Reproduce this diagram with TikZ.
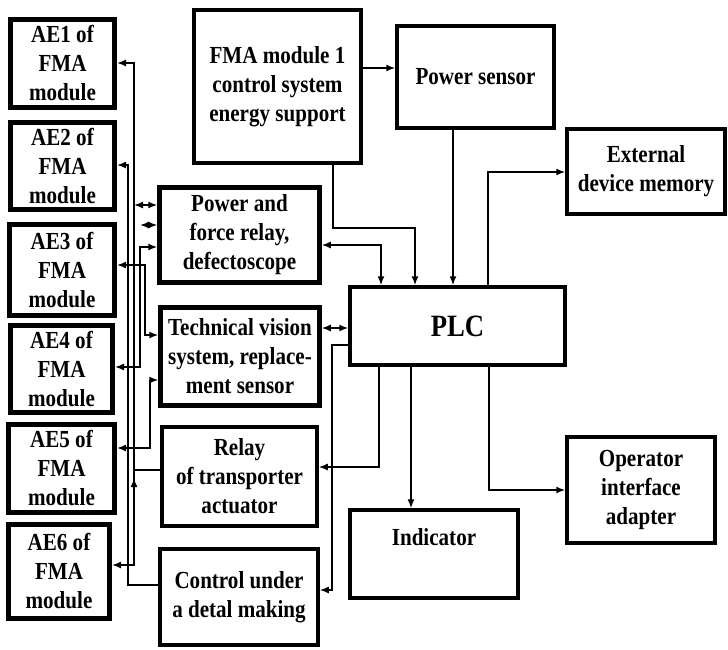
\documentclass[tikz,border=0pt]{standalone}
\usepackage{fontspec}
\setmainfont{Liberation Serif}[FakeStretch=0.86]
\usetikzlibrary{arrows.meta}
\tikzset{
  boxbase/.style={draw, rectangle, inner sep=0pt, align=center,
    font=\fontsize{24.5}{29}\selectfont\bfseries},
  aebox/.style={boxbase, line width=5pt},
  thickbox/.style={boxbase, line width=4.5pt},
  box/.style={boxbase, line width=3.5pt},
  arr/.style={draw, line width=1.5pt, -{Latex[length=9pt,width=7pt]}},
  darr/.style={draw, line width=1.5pt, {Latex[length=9pt,width=7pt]}-{Latex[length=9pt,width=7pt]}},
}
\newcommand{\stk}[1]{\begin{tabular}{@{}c@{}}#1\end{tabular}}
\begin{document}
\begin{tikzpicture}[x=1pt,y=-1pt]
\useasboundingbox (0,0) rectangle (728,649);
% left column
\node[aebox, minimum width=104pt, minimum height=88pt] (AE1) at (62.5,63.5) {AE1 of\\FMA\\module};
\node[aebox, minimum width=104pt, minimum height=87pt] (AE2) at (62.5,166) {AE2 of\\FMA\\module};
\node[aebox, minimum width=105pt, minimum height=91pt] (AE3) at (62,270) {AE3 of\\FMA\\module};
\node[aebox, minimum width=102pt, minimum height=87pt] (AE4) at (61.5,369) {AE4 of\\FMA\\module};
\node[aebox, minimum width=106pt, minimum height=88pt] (AE5) at (61.5,468.5) {AE5 of\\FMA\\module};
\node[aebox, minimum width=101pt, minimum height=94pt] (AE6) at (59,571.5) {AE6 of\\FMA\\module};
% middle column
\node[box, minimum width=167pt, minimum height=153pt] (FMA) at (277.5,86.5) {FMA module 1\\control system\\energy support};
\node[thickbox, minimum width=160pt, minimum height=95pt] (PFR) at (239.5,235) {Power and\\force relay,\\defectoscope};
\node[thickbox, minimum width=159pt, minimum height=98pt] (TV) at (240,356.5) {Technical vision\\system, replace-\\ment sensor};
\node[box, minimum width=155pt, minimum height=99pt] (Rel) at (239.5,476.5) {Relay\\of transporter\\actuator};
\node[box, minimum width=158pt, minimum height=96pt] (Ctrl) at (239,597) {\raisebox{18pt}{\stk{Control under\\a detal making}}};
% right part
\node[box, minimum width=157pt, minimum height=102pt] (PS) at (475.5,77) {Power sensor};
\node[box, minimum width=158pt, minimum height=85pt] (EDM) at (646,171.5) {\raisebox{10pt}{\stk{External\\device memory}}};
\node[box, minimum width=215pt, minimum height=78pt, font=\fontsize{31}{36}\selectfont\bfseries] (PLC) at (457.5,326) {PLC};
\node[box, minimum width=168pt, minimum height=88pt] (Ind) at (434,554) {\raisebox{34pt}{Indicator}};
\node[box, minimum width=148pt, minimum height=106pt] (OIA) at (641,490) {Operator\\interface\\adapter};
% named free ends / junctions
\coordinate (jB) at (134,470);
\coordinate (upA) at (134,494);
\coordinate (upB) at (134,478);
\coordinate (d1) at (134,205);
\coordinate (d2) at (140,225);
% left bus
\draw[arr] (Rel.west |- jB) -- (jB) |- (AE1.east |- 0,63);
\draw[arr] (jB) |- (AE6.east |- 0,565);
\draw[arr] (upA) -- (upB);
\draw[arr] (Ctrl.west |- 0,585) -| (128,165) -- (AE2.east |- 0,165);
\draw[darr] (d1) -- (PFR.west |- d1);
\draw[darr] (d2) -- (PFR.west |- d2);
\draw[darr] (PFR.west |- 0,247) -| (140,367) -- (AE4.east |- 0,367);
\draw[darr] (AE3.east |- 0,265) -| (145,335) -- (TV.west |- 0,335);
\draw[darr] (TV.west |- 0,380) -| (150,448) -- (AE5.east |- 0,448);
% right connections
\draw[arr] (FMA.east |- 0,68) -- (PS.west |- 0,68);
\draw[arr] (FMA.south -| 333,0) |- (415,228) -- (PLC.north -| 415,0);
\draw[arr] (PS.south -| 453,0) -- (PLC.north -| 453,0);
\draw[darr] (PFR.east |- 0,245) -| (PLC.north -| 381,0);
\draw[arr] (PLC.north -| 488,0) |- (EDM.west |- 0,172);
\draw[darr] (TV.east |- 0,328) -- (PLC.west |- 0,328);
\draw[arr] (PLC.west |- 0,345) -| (332,590) -- (Ctrl.east |- 0,590);
\draw[arr] (PLC.south -| 379,0) |- (Rel.east |- 0,467);
\draw[arr] (PLC.south -| 411,0) -- (Ind.north -| 411,0);
\draw[arr] (PLC.south -| 489,0) |- (OIA.west |- 0,490);
\end{tikzpicture}
\end{document}
